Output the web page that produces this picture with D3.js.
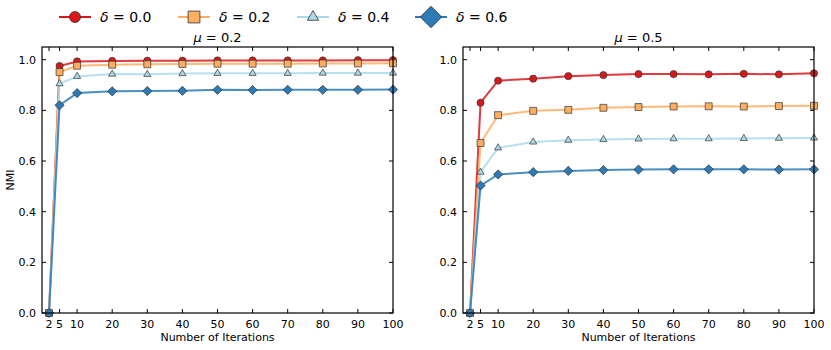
<!DOCTYPE html>
<html lang="en">
<head>
    <meta charset="UTF-8">
    <title>NMI vs iterations</title>
    <script src="https://d3js.org/d3.v7.min.js"></script>
    <style>
        body {
            margin: 0;
            padding: 0;
            background: #fff;
        }

        svg text {
            font-family: "DejaVu Sans", sans-serif;
            fill: #000;
        }
    </style>
</head>
<body>
<svg id="chart" width="831" height="350" xmlns="http://www.w3.org/2000/svg"></svg>
<script>
    var iterations = [2, 5, 10, 20, 30, 40, 50, 60, 70, 80, 90, 100];
    var deltas = ['0.0', '0.2', '0.4', '0.6'];
    var colors = ['#d7191c', '#fdae61', '#abd9e9', '#2c7bb6'];
    var markers = ['circle', 'square', 'triangle', 'diamond'];
    var xTicks = [2, 5, 10, 20, 30, 40, 50, 60, 70, 80, 90, 100];
    var yTicks = [0, 0.2, 0.4, 0.6, 0.8, 1.0];

    // mu = 0.2
    var nmiMu02 = [
        [0, 0.975, 0.993, 0.995, 0.996, 0.996, 0.997, 0.997, 0.997, 0.997, 0.998, 0.998],
        [0, 0.951, 0.976, 0.980, 0.982, 0.983, 0.984, 0.984, 0.984, 0.985, 0.985, 0.986],
        [0, 0.905, 0.934, 0.943, 0.942, 0.945, 0.946, 0.946, 0.946, 0.947, 0.947, 0.947],
        [0, 0.820, 0.868, 0.875, 0.876, 0.877, 0.881, 0.880, 0.881, 0.881, 0.881, 0.882]
    ];
    // mu = 0.5
    var nmiMu05 = [
        [0, 0.830, 0.917, 0.925, 0.935, 0.939, 0.943, 0.943, 0.942, 0.944, 0.942, 0.946],
        [0, 0.671, 0.781, 0.798, 0.802, 0.810, 0.813, 0.815, 0.816, 0.815, 0.817, 0.818],
        [0, 0.556, 0.652, 0.675, 0.682, 0.685, 0.687, 0.688, 0.688, 0.689, 0.690, 0.691],
        [0, 0.503, 0.547, 0.556, 0.561, 0.564, 0.566, 0.567, 0.567, 0.567, 0.566, 0.567]
    ];

    var svg = d3.select('#chart');

    // matplotlib-style markers; the diamond is a square turned 45 degrees
    function markerPath(kind, size) {
        var symbols = {
            circle: d3.symbolCircle,
            square: d3.symbolSquare,
            triangle: d3.symbolTriangle,
            diamond: d3.symbolSquare
        };
        return d3.symbol().type(symbols[kind]).size(size)();
    }

    function markerTransform(kind, px, py) {
        return 'translate(' + px + ',' + py + ')' + (kind === 'diamond' ? ' rotate(45)' : '');
    }

    var markerSizes = {circle: 40, square: 48, triangle: 22, diamond: 42};

    function drawPanel(left, right, title, data, showYLabel) {
        var top = 47, bottom = 313;
        var x = d3.scaleLinear().domain([0, 100]).range([left, right]);
        var y = d3.scaleLinear().domain([0, 1.05]).range([bottom, top]);
        var g = svg.append('g');

        // ticks inward on all four sides
        var tickLen = 4;
        g.append('g').selectAll('line').data(xTicks).join('line')
            .attr('x1', function (d) { return x(d); }).attr('x2', function (d) { return x(d); })
            .attr('y1', bottom).attr('y2', bottom - tickLen).attr('stroke', '#000');
        g.append('g').selectAll('line').data(xTicks).join('line')
            .attr('x1', function (d) { return x(d); }).attr('x2', function (d) { return x(d); })
            .attr('y1', top).attr('y2', top + tickLen).attr('stroke', '#000');
        g.append('g').selectAll('line').data(yTicks).join('line')
            .attr('x1', left).attr('x2', left + tickLen)
            .attr('y1', function (d) { return y(d); }).attr('y2', function (d) { return y(d); })
            .attr('stroke', '#000');
        g.append('g').selectAll('line').data(yTicks).join('line')
            .attr('x1', right).attr('x2', right - tickLen)
            .attr('y1', function (d) { return y(d); }).attr('y2', function (d) { return y(d); })
            .attr('stroke', '#000');

        // tick labels
        g.append('g').selectAll('text').data(xTicks).join('text')
            .attr('x', function (d) { return x(d); }).attr('y', bottom + 15)
            .attr('text-anchor', 'middle').attr('font-size', 11)
            .text(function (d) { return d; });
        g.append('g').selectAll('text').data(yTicks).join('text')
            .attr('x', left - 6).attr('y', function (d) { return y(d) + 4; })
            .attr('text-anchor', 'end').attr('font-size', 11)
            .text(function (d) { return d3.format('.1f')(d); });

        // title
        var t = g.append('text')
            .attr('x', (left + right) / 2).attr('y', 42)
            .attr('text-anchor', 'middle').attr('font-size', 13);
        t.append('tspan').attr('font-style', 'italic').text('μ');
        t.append('tspan').text(' = ' + title);

        g.append('text')
            .attr('x', (left + right) / 2).attr('y', 341)
            .attr('text-anchor', 'middle').attr('font-size', 11)
            .text('Number of Iterations');

        if (showYLabel) {
            g.append('text')
                .attr('transform', 'translate(14,' + ((top + bottom) / 2) + ') rotate(-90)')
                .attr('text-anchor', 'middle').attr('font-size', 11)
                .text('NMI');
        }

        var line = d3.line()
            .x(function (d, i) { return x(iterations[i]); })
            .y(function (d) { return y(d); });

        data.forEach(function (series, k) {
            g.append('path')
                .datum(series)
                .attr('d', line)
                .attr('fill', 'none')
                .attr('stroke', colors[k])
                .attr('stroke-opacity', 0.85)
                .attr('stroke-width', 2);
            g.append('g').selectAll('path').data(series).join('path')
                .attr('transform', function (d, i) {
                    return markerTransform(markers[k], x(iterations[i]), y(d));
                })
                .attr('d', markerPath(markers[k], markerSizes[markers[k]]))
                .attr('fill', colors[k])
                .attr('stroke', '#333')
                .attr('stroke-width', 0.7);
        });

        // frame on top
        g.append('rect')
            .attr('x', left).attr('y', top)
            .attr('width', right - left).attr('height', bottom - top)
            .attr('fill', 'none').attr('stroke', '#000').attr('stroke-width', 1.2);
    }

    drawPanel(42, 393, '0.2', nmiMu02, true);
    drawPanel(463, 814, '0.5', nmiMu05, false);

    // legend
    var legendX = [75, 194, 313, 431];
    var legendSizes = {circle: 95, square: 140, triangle: 55, diamond: 230};
    var legend = svg.append('g');
    deltas.forEach(function (d, k) {
        var cx = legendX[k], cy = 17;
        legend.append('line')
            .attr('x1', cx - 16).attr('x2', cx + 16)
            .attr('y1', cy).attr('y2', cy)
            .attr('stroke', colors[k]).attr('stroke-width', 2);
        legend.append('path')
            .attr('transform', markerTransform(markers[k], cx, cy))
            .attr('d', markerPath(markers[k], legendSizes[markers[k]]))
            .attr('fill', colors[k]).attr('stroke', '#333').attr('stroke-width', 0.8);
        var t = legend.append('text')
            .attr('x', cx + 25).attr('y', cy + 5)
            .attr('font-size', 14);
        t.append('tspan').attr('font-style', 'italic').text('δ');
        t.append('tspan').text(' = ' + d);
    });
</script>
</body>
</html>
